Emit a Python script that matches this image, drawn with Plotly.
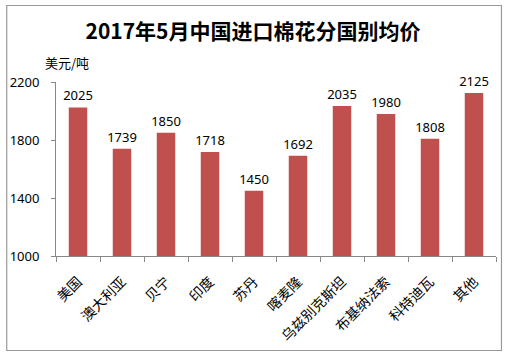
import plotly.graph_objects as go

categories = ["美国", "澳大利亚", "贝宁", "印度", "苏丹", "喀麦隆", "乌兹别克斯坦", "布基纳法索", "科特迪瓦", "其他"]
values = [2025, 1739, 1850, 1718, 1450, 1692, 2035, 1980, 1808, 2125]
y_ticks = [1000, 1400, 1800, 2200]

W, H = 506, 356
L, R, T, B = 54, 10, 82, 100
pw, ph = W - L - R, H - T - B

def px_x(x):
    return (x - L) / pw

def px_y(y):
    return (H - B - y) / ph

fig = go.Figure(go.Bar(
    x=categories, y=values,
    marker=dict(color="#C0504D", line=dict(width=0)),
    width=0.42,
    text=[str(v) for v in values], textposition="outside",
    constraintext="none",
    textfont=dict(size=13, color="#000000", family="Noto Sans, Noto Sans CJK SC"),
    cliponaxis=False,
))

fig.update_layout(
    width=W, height=H,
    margin=dict(l=L, r=R, t=T, b=B),
    paper_bgcolor="white", plot_bgcolor="white",
    showlegend=False,
    font=dict(family="Noto Sans CJK SC", size=12, color="#000"),
    title=dict(text="<b>2017年5月中国进口棉花分国别均价</b>", x=0.5, xanchor="center",
               y=1 - 32 / H, yanchor="middle", font=dict(size=21, color="#000")),
    xaxis=dict(
        showline=True, linecolor="#888888", linewidth=1,
        ticks="outside", ticklen=5, tickcolor="#888888",
        tickson="boundaries", tickangle=-45,
        tickfont=dict(size=14, family="Noto Sans CJK SC", color="#000"),
        ticklabelstandoff=11,
        showgrid=False,
    ),
    yaxis=dict(
        range=[1000, 2200], tickvals=y_ticks,
        showline=True, linecolor="#888888", linewidth=1,
        ticks="outside", ticklen=4, tickcolor="#888888",
        showgrid=False, zeroline=False,
        ticklabelstandoff=9,
        tickfont=dict(size=13, family="Noto Sans", color="#000"),
    ),
    shapes=[dict(type="rect", xref="paper", yref="paper",
                 x0=px_x(4.5), x1=px_x(501.5), y0=px_y(350.5), y1=px_y(5.5),
                 line=dict(color="#9A9A9A", width=1.2), layer="above")],
    annotations=[dict(text="美元/吨", xref="paper", yref="paper",
                      x=px_x(41), y=px_y(63), xanchor="left", yanchor="middle",
                      showarrow=False, font=dict(size=13, color="#000"))],
)

fig.write_html("out.html", config={"displayModeBar": False},
               post_script="document.body.style.margin='0';document.body.style.overflow='hidden';")
